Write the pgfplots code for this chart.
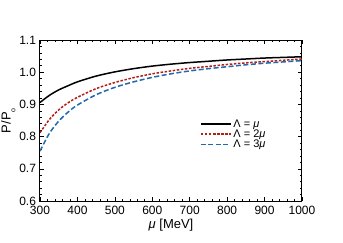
\documentclass[border=0pt]{standalone}
\usepackage{fontspec}
\setmainfont{Liberation Sans}
\usepackage{pgfplots}
\pgfplotsset{compat=1.18}
\definecolor{cred}{RGB}{180,30,25}
\definecolor{cblue}{RGB}{30,105,175}
\begin{document}
\begin{tikzpicture}
\path[use as bounding box] (-40pt,-41pt) rectangle (303pt,201pt);
\begin{axis}[
  scale only axis, width=262pt, height=161pt,
  xmin=300, xmax=1000, ymin=0.6, ymax=1.1,
  xtick={300,400,...,1000}, ytick={0.6,0.7,...,1.1},
  minor x tick num=4, minor y tick num=4,
  tick align=inside, ticks=both,
  xtick pos=both, ytick pos=both,
  major tick length=4pt, minor tick length=2pt,
  every tick/.style={black, line width=0.6pt},
  axis line style={line width=1pt},
  /pgf/number format/assume math mode=true,
  yticklabel={\pgfmathprintnumber[fixed,fixed zerofill,precision=1]{\tick}},
  xticklabel={\pgfmathprintnumber[fixed,precision=0,1000 sep={}]{\tick}},
  tick label style={font=\fontsize{12}{13}\selectfont},
  xticklabel style={yshift=-1.5pt},
  yticklabel style={xshift=-0.5pt},
  label style={font=\fontsize{13}{15}\selectfont},
  xlabel={\textit{μ} [MeV]},
  ylabel={P/P\textsubscript{\raisebox{-0.6ex}{\scriptsize o}}},
  xlabel style={yshift=2pt},
  ylabel style={yshift=-3pt},
  legend style={draw=none, fill=none, at={(0.61,0.31)}, anchor=south west,
    font=\fontsize{11}{12}\selectfont, row sep=-3pt, legend cell align=left,
    inner sep=0pt},
  legend image code/.code={\draw[#1, line width=1.5pt] (0cm,0cm) -- (1.05cm,0cm);},
  every axis plot/.append style={smooth, line width=1.5pt, mark=none},
]
\addplot[black] coordinates {(300,0.906) (325,0.928) (350,0.945) (375,0.958) (400,0.970) (450,0.988) (500,1.001) (550,1.011) (600,1.019) (650,1.025) (700,1.030) (750,1.034) (800,1.038) (850,1.041) (900,1.044) (950,1.046) (1000,1.048)};
\addlegendentry{Λ = \textit{μ}}
\addplot[cred, dash pattern=on 2.5pt off 1.6pt] coordinates {(300,0.812) (325,0.853) (350,0.883) (375,0.905) (400,0.922) (450,0.949) (500,0.968) (550,0.983) (600,0.995) (650,1.004) (700,1.012) (750,1.018) (800,1.024) (850,1.029) (900,1.033) (950,1.037) (1000,1.041)};
\addlegendentry{Λ = 2\textit{μ}}
\addplot[cblue, dash pattern=on 5pt off 2.5pt] coordinates {(300,0.755) (325,0.810) (350,0.848) (375,0.876) (400,0.898) (450,0.930) (500,0.953) (550,0.970) (600,0.984) (650,0.995) (700,1.004) (750,1.011) (800,1.017) (850,1.023) (900,1.028) (950,1.032) (1000,1.036)};
\addlegendentry{Λ = 3\textit{μ}}
\end{axis}
\end{tikzpicture}
\end{document}
